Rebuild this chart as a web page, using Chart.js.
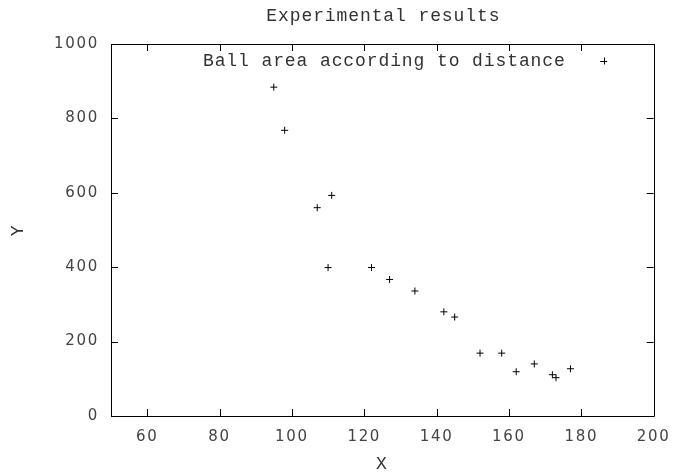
<!DOCTYPE html>
<html>
<head>
<meta charset="utf-8">
<script src="https://cdn.jsdelivr.net/npm/chart.js@4/dist/chart.umd.min.js"></script>
<style>
  html, body { margin: 0; padding: 0; background: #fff; }
  #wrap { width: 680px; height: 475px; }
</style>
</head>
<body>
<div id="wrap"><canvas id="c" width="680" height="475"></canvas></div>
<script>
// Measured ball area (Y) against distance (X)
const distances = [95, 98, 107, 111, 110, 122, 127, 134, 142, 145, 152, 158, 162, 167, 172, 173, 177];
const areas     = [884, 768, 560, 593, 399, 399, 367, 336, 280, 266, 169, 169, 119, 140, 111, 103, 127];
const xTicks = [60, 80, 100, 120, 140, 160, 180, 200];
const yTicks = [0, 200, 400, 600, 800, 1000];
const chartTitle = 'Experimental results';
const seriesLabel = 'Ball area according to distance';

const MONO = '"Liberation Mono", "DejaVu Sans Mono", monospace';
const SANS = '"DejaVu Sans", sans-serif';

const points = distances.map((x, i) => ({ x: x, y: areas[i] }));

// Wider letter spacing for the axis tick labels
const spacingPlugin = {
  id: 'spacing',
  beforeDraw(chart) { chart.ctx.letterSpacing = '1.7px'; }
};

// Frame, inward mirrored ticks, title and key drawn on top of the chart
const framePlugin = {
  id: 'frame',
  afterDraw(chart) {
    const ctx = chart.ctx;
    const a = chart.chartArea;
    const xs = chart.scales.x, ys = chart.scales.y;
    const tl = 7;
    ctx.save();
    ctx.strokeStyle = '#000';
    ctx.lineWidth = 1;
    ctx.beginPath();
    ctx.rect(Math.round(a.left) + 0.5, Math.round(a.top) + 0.5,
             Math.round(a.right - a.left), Math.round(a.bottom - a.top));
    xTicks.forEach(v => {
      const px = Math.round(xs.getPixelForValue(v)) + 0.5;
      ctx.moveTo(px, a.bottom); ctx.lineTo(px, a.bottom - tl);
      ctx.moveTo(px, a.top); ctx.lineTo(px, a.top + tl);
    });
    yTicks.forEach(v => {
      const py = Math.round(ys.getPixelForValue(v)) + 0.5;
      ctx.moveTo(a.left, py); ctx.lineTo(a.left + tl, py);
      ctx.moveTo(a.right, py); ctx.lineTo(a.right - tl, py);
    });
    ctx.stroke();

    // Title
    ctx.letterSpacing = '0.9px';
    ctx.fillStyle = '#333';
    ctx.font = '18px ' + MONO;
    ctx.textAlign = 'center';
    ctx.textBaseline = 'middle';
    ctx.fillText(chartTitle, (a.left + a.right) / 2 + 1, 16);

    // Key: label and point sample at the top right of the plot
    const keyY = a.top + 17;
    ctx.textAlign = 'right';
    ctx.fillText(seriesLabel, a.right - 88, keyY);
    const sx = a.right - 50, r = 3.5;
    ctx.strokeStyle = '#000';
    ctx.beginPath();
    ctx.moveTo(sx - r, Math.round(keyY) + 0.5); ctx.lineTo(sx + r, Math.round(keyY) + 0.5);
    ctx.moveTo(Math.round(sx) + 0.5, keyY - r); ctx.lineTo(Math.round(sx) + 0.5, keyY + r);
    ctx.stroke();
    ctx.restore();
  }
};

new Chart(document.getElementById('c'), {
  type: 'scatter',
  data: {
    datasets: [{
      label: seriesLabel,
      data: points,
      pointStyle: 'cross',
      pointRadius: 3.5,
      pointHoverRadius: 3.5,
      borderColor: '#000',
      backgroundColor: '#000',
      borderWidth: 1
    }]
  },
  options: {
    responsive: false,
    animation: false,
    devicePixelRatio: 1,
    layout: { padding: { left: 0, right: 25, top: 44, bottom: 0 } },
    plugins: {
      legend: { display: false },
      title: { display: false },
      tooltip: { enabled: false }
    },
    scales: {
      x: {
        type: 'linear',
        min: 50, max: 200,
        afterBuildTicks(scale) { scale.ticks = xTicks.map(v => ({ value: v })); },
        afterFit(scale) { scale.height = 59; },
        grid: { display: false, drawTicks: false },
        border: { display: false },
        ticks: { color: '#444', padding: 12, font: { family: SANS, size: 15 }, maxRotation: 0,
                 callback: v => String(v) },
        title: { display: true, text: 'X', color: '#333', font: { family: MONO, size: 18 }, padding: 0 }
      },
      y: {
        type: 'linear',
        min: 0, max: 1000,
        afterBuildTicks(scale) { scale.ticks = yTicks.map(v => ({ value: v })); },
        afterFit(scale) { scale.width = 111; },
        grid: { display: false, drawTicks: false },
        border: { display: false },
        ticks: { color: '#444', padding: 12, font: { family: SANS, size: 15 },
                 callback: v => String(v) },
        title: { display: true, text: 'Y', color: '#333', font: { family: MONO, size: 18 }, padding: { top: 7, bottom: 0 } }
      }
    }
  },
  plugins: [spacingPlugin, framePlugin]
});
</script>
</body>
</html>
